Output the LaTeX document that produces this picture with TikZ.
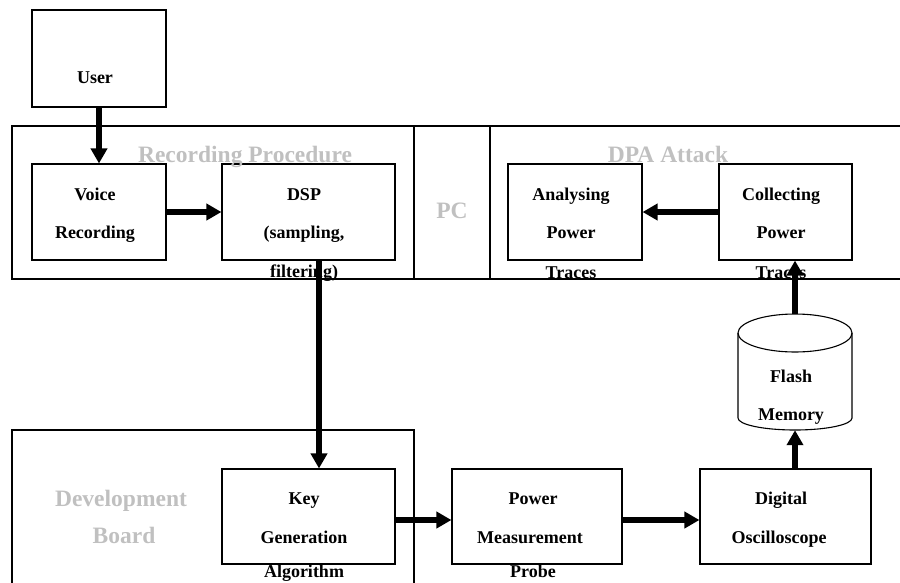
\documentclass[tikz,border=0pt]{standalone}
\usepackage{fontspec}
\setmainfont{Liberation Serif}
\usetikzlibrary{arrows.meta}
\definecolor{ttlgray}{RGB}{192,192,192}
\begin{document}
\begin{tikzpicture}[x=1pt,y=-1pt,
  box/.style={draw, line width=1.1pt, inner sep=0pt},
  hid/.style={inner sep=0pt},
  frm/.style={draw, line width=1.1pt},
  txt/.style={font=\fontsize{18}{18}\selectfont\bfseries, anchor=base, inner sep=0pt},
  ttl/.style={font=\fontsize{23.5}{23.5}\selectfont\bfseries, text=ttlgray, anchor=base, inner sep=0pt},
  arr/.style={line width=6pt, -{Triangle[length=15pt,width=16pt]}}]
\useasboundingbox (0,0) rectangle (900,582);

% region frames
\draw[frm] (903,126) -- (12,126) -- (12,279) -- (903,279);
\draw[frm] (414,126) -- (414,279);
\draw[frm] (490,126) -- (490,279);
\draw[frm] (12,590) -- (12,430) -- (414,430) -- (414,590);

% boxes
\node[box, minimum width=134pt, minimum height=97pt] (user) at (99,58.5) {};
\node[box, minimum width=134pt, minimum height=96pt] (voice) at (99,212) {};
\node[box, minimum width=173pt, minimum height=96pt] (dsp) at (308.5,212) {};
\node[box, minimum width=134pt, minimum height=96pt] (anal) at (575,212) {};
\node[box, minimum width=133pt, minimum height=96pt] (coll) at (785.5,212) {};
\node[box, minimum width=173pt, minimum height=95pt] (key) at (308.5,516.5) {};
\node[box, minimum width=170pt, minimum height=95pt] (pm) at (537,516.5) {};
\node[box, minimum width=171pt, minimum height=95pt] (dig) at (785.5,516.5) {};
\node[hid, minimum width=114pt, minimum height=116pt] (flash) at (795,372) {};

% cylinder
\draw[line width=1.1pt] (795,333) ellipse [x radius=57pt, y radius=19pt];
\draw[line width=1.1pt] (738,333) -- (738,418) arc[start angle=180, end angle=360, x radius=57pt, y radius=12pt] -- (852,333);

% gray titles
\node[ttl] (t1) at (245,162) {Recording Procedure};
\node[ttl] (t2) at (668,162) {DPA Attack};
\node[ttl] (t3) at (452,218) {PC};
\node[ttl] (t4) at (121,506) {Development};
\node[ttl] (t5) at (124,543) {Board};

% box texts
\node[txt] at (95,83) {User};
\node[txt] at (95,200) {Voice};
\node[txt] at (95,238) {Recording};
\node[txt] at (304,200) {DSP};
\node[txt] at (304,238) {(sampling,};
\node[txt] at (304,277) {filtering)};
\node[txt] at (571,200) {Analysing};
\node[txt] at (571,238) {Power};
\node[txt] at (571,278) {Traces};
\node[txt] at (781,200) {Collecting};
\node[txt] at (781,238) {Power};
\node[txt] at (781,278) {Traces};
\node[txt] at (304,504) {Key};
\node[txt] at (304,543) {Generation};
\node[txt] at (304,577) {Algorithm};
\node[txt] at (533,504) {Power};
\node[txt] at (530,543) {Measurement};
\node[txt] at (533,577) {Probe};
\node[txt] at (781,504) {Digital};
\node[txt] at (779,543) {Oscilloscope};
\node[txt] at (791,382) {Flash};
\node[txt] at (791,420) {Memory};

% connectors
\draw[arr] (user.south) -- (voice.north);
\draw[arr] (voice.east) -- (dsp.west);
\draw[arr] ([xshift=10.5pt]dsp.south) -- ([xshift=10.5pt]key.north);
\draw[arr] ([yshift=-3.5pt]key.east) -- ([yshift=-3.5pt]pm.west);
\draw[arr] ([yshift=-3.5pt]pm.east) -- ([yshift=-3.5pt]dig.west);
\draw[arr] ([xshift=9.5pt]dig.north) -- (flash.south);
\draw[arr] (flash.north) -- ([xshift=9.5pt]coll.south);
\draw[arr] (coll.west) -- (anal.east);
\end{tikzpicture}
\end{document}
